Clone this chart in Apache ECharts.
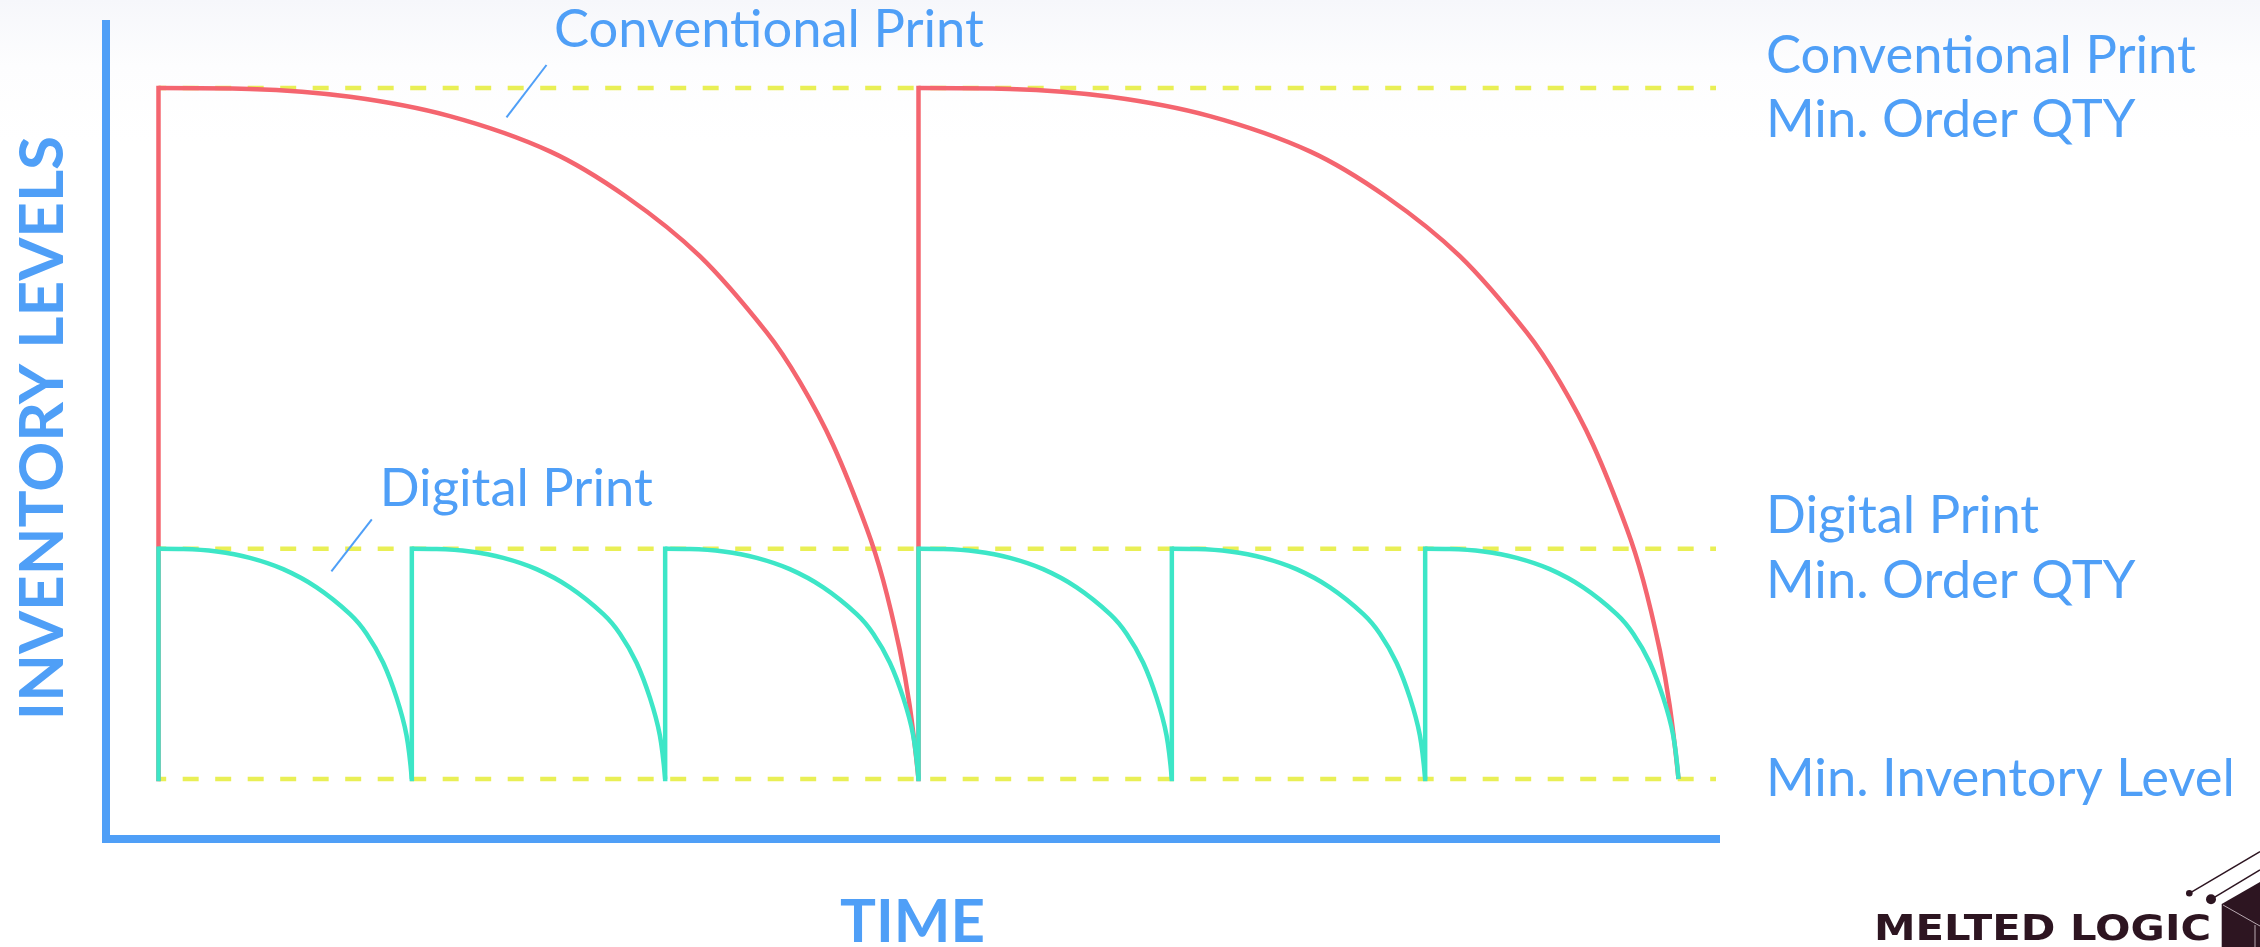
<!DOCTYPE html>
<html>
<head>
<meta charset="utf-8">
<style>
  html, body { margin: 0; padding: 0; background: #ffffff; }
  #chart { width: 2260px; height: 947px; }
</style>
<script src="https://cdn.jsdelivr.net/npm/echarts@6/dist/echarts.min.js"></script>
</head>
<body>
<div id="chart"></div>
<script>
// ---- data (x: time in digital reorder periods, y: inventory units) ----
const levels = [3, 1, 0];
const levelLabels = ['Conventional Print\nMin. Order QTY', 'Digital Print\nMin. Order QTY', 'Min. Inventory Level'];

const conventionalCurve = [
  [0, 3], [0.361, 2.996], [0.756, 2.962], [1.150, 2.878], [1.545, 2.725], [1.848, 2.527],
  [2.137, 2.270], [2.400, 1.940], [2.531, 1.725], [2.663, 1.450], [2.795, 1.090], [2.860, 0.865],
  [2.926, 0.560], [2.965, 0.320], [3, 0],
  ['-', '-'],
  [3, 3], [3.361, 2.996], [3.756, 2.962], [4.150, 2.878], [4.545, 2.725], [4.848, 2.527],
  [5.137, 2.270], [5.400, 1.940], [5.531, 1.725], [5.663, 1.450], [5.795, 1.090], [5.860, 0.865],
  [5.926, 0.560], [5.965, 0.320], [6, 0]
];
const conventionalRise = [[0, 0], [0, 3], ['-', '-'], [3, 0], [3, 3]];

const digitalCurve = [
  [0, 1], [0.098, 0.999], [0.230, 0.988], [0.361, 0.960], [0.492, 0.911], [0.624, 0.832], [0.756, 0.716], [0.822, 0.630], [0.887, 0.505], [0.940, 0.352], [0.979, 0.190], [1, 0],
  ['-', '-'],
  [1, 1], [1.098, 0.999], [1.230, 0.988], [1.361, 0.960], [1.492, 0.911], [1.624, 0.832], [1.756, 0.716], [1.822, 0.630], [1.887, 0.505], [1.940, 0.352], [1.979, 0.190], [2, 0],
  ['-', '-'],
  [2, 1], [2.098, 0.999], [2.230, 0.988], [2.361, 0.960], [2.492, 0.911], [2.624, 0.832], [2.756, 0.716], [2.822, 0.630], [2.887, 0.505], [2.940, 0.352], [2.979, 0.190], [3, 0],
  ['-', '-'],
  [3, 1], [3.098, 0.999], [3.230, 0.988], [3.361, 0.960], [3.492, 0.911], [3.624, 0.832], [3.756, 0.716], [3.822, 0.630], [3.887, 0.505], [3.940, 0.352], [3.979, 0.190], [4, 0],
  ['-', '-'],
  [4, 1], [4.098, 0.999], [4.230, 0.988], [4.361, 0.960], [4.492, 0.911], [4.624, 0.832], [4.756, 0.716], [4.822, 0.630], [4.887, 0.505], [4.940, 0.352], [4.979, 0.190], [5, 0],
  ['-', '-'],
  [5, 1], [5.098, 0.999], [5.230, 0.988], [5.361, 0.960], [5.492, 0.911], [5.624, 0.832], [5.756, 0.716], [5.822, 0.630], [5.887, 0.505], [5.940, 0.352], [5.979, 0.190], [6, 0]
];
const digitalRise = [
  [0, 0], [0, 1], ['-', '-'], [1, 0], [1, 1], ['-', '-'], [2, 0], [2, 1], ['-', '-'],
  [3, 0], [3, 1], ['-', '-'], [4, 0], [4, 1], ['-', '-'], [5, 0], [5, 1]
];

const xRange = [-0.2072, 6.148];
const yRange = [-0.2605, 3.278];

// ---- styles ----
const BLUE = '#4f9ff7';
const RED = '#f4656f';
const TEAL = '#3de6c7';
const YELLOW = '#e9ef55';
const DARK = '#2d1521';
const FONT = 'Lato, "Noto Sans", sans-serif';

const chart = echarts.init(document.getElementById('chart'), null, { renderer: 'canvas' });

const levelSeries = levels.map((lv, i) => ({
  type: 'line',
  name: 'level' + i,
  data: [[0, lv], [xRange[1], lv]],
  symbol: 'none',
  silent: true,
  z: 1,
  lineStyle: { color: YELLOW, width: 4.5, type: [16, 16.5], dashOffset: 8.3 },
  endLabel: {
    show: true,
    formatter: levelLabels[i],
    color: BLUE,
    fontFamily: FONT,
    fontSize: 52.5,
    lineHeight: 64.5,
    distance: 50
  }
}));

const option = {
  animation: false,
  backgroundColor: new echarts.graphic.LinearGradient(0, 0, 0, 1, [
    { offset: 0, color: '#f6f7fb' },
    { offset: 0.07, color: '#fdfdfe' },
    { offset: 0.15, color: '#ffffff' },
    { offset: 1, color: '#ffffff' }
  ]),
  grid: { left: 106, right: 544, top: 24, bottom: 108, containLabel: false },
  xAxis: {
    type: 'value', min: xRange[0], max: xRange[1],
    axisLine: { show: true, onZero: false, lineStyle: { color: BLUE, width: 8, cap: 'square' } },
    axisTick: { show: false }, axisLabel: { show: false }, splitLine: { show: false }
  },
  yAxis: {
    type: 'value', min: yRange[0], max: yRange[1],
    axisLine: { show: true, onZero: false, lineStyle: { color: BLUE, width: 8, cap: 'square' } },
    axisTick: { show: false }, axisLabel: { show: false }, splitLine: { show: false }
  },
  series: [
    ...levelSeries,
    {
      type: 'line', name: 'Conventional Print', data: conventionalCurve,
      symbol: 'none', smooth: 0.35, connectNulls: false, z: 3,
      lineStyle: { color: RED, width: 4.5 }
    },
    {
      type: 'line', name: 'Conventional rise', data: conventionalRise,
      symbol: 'none', connectNulls: false, z: 3,
      lineStyle: { color: RED, width: 4.5, cap: 'square' }
    },
    {
      type: 'line', name: 'Digital Print', data: digitalCurve,
      symbol: 'none', smooth: 0.35, connectNulls: false, z: 4,
      lineStyle: { color: TEAL, width: 4.5 }
    },
    {
      type: 'line', name: 'Digital rise', data: digitalRise,
      symbol: 'none', connectNulls: false, z: 4,
      lineStyle: { color: TEAL, width: 4.5, cap: 'square' }
    }
  ],
  graphic: {
    elements: [
      { type: 'text', x: 554, y: 30, z: 10,
        style: { text: 'Conventional Print', fill: BLUE, font: '52.5px ' + FONT, textAlign: 'left', textVerticalAlign: 'middle' } },
      { type: 'line', z: 10, shape: { x1: 546.5, y1: 65, x2: 506.5, y2: 117.3 }, style: { stroke: BLUE, lineWidth: 2 } },
      { type: 'text', x: 379.7, y: 489, z: 10,
        style: { text: 'Digital Print', fill: BLUE, font: '52.5px ' + FONT, textAlign: 'left', textVerticalAlign: 'middle' } },
      { type: 'line', z: 10, shape: { x1: 371.8, y1: 519.3, x2: 331.4, y2: 571.3 }, style: { stroke: BLUE, lineWidth: 2 } },
      { type: 'text', x: 42.5, y: 428, rotation: Math.PI / 2, z: 10,
        style: { text: 'INVENTORY LEVELS', fill: BLUE, font: 'bold 62px ' + FONT, textAlign: 'center', textVerticalAlign: 'middle' } },
      { type: 'text', x: 912.5, y: 923, z: 10,
        style: { text: 'TIME', fill: BLUE, font: 'bold 60px ' + FONT, textAlign: 'center', textVerticalAlign: 'middle' } },
      // logo
      { type: 'text', x: 1874, y: 931, scaleX: 1.16, z: 10,
        style: { text: 'MELTED LOGIC', fill: DARK, font: 'bold 36px "DejaVu Sans", sans-serif', textAlign: 'left', textVerticalAlign: 'middle' } },
      { type: 'line', z: 10, shape: { x1: 2189.3, y1: 893.3, x2: 2260, y2: 851.7 }, style: { stroke: DARK, lineWidth: 1.5 } },
      { type: 'line', z: 10, shape: { x1: 2211, y1: 899.3, x2: 2260, y2: 870 }, style: { stroke: DARK, lineWidth: 1.5 } },
      { type: 'circle', z: 10, shape: { cx: 2189.3, cy: 893.3, r: 3.3 }, style: { fill: DARK } },
      { type: 'circle', z: 10, shape: { cx: 2211, cy: 899.3, r: 5 }, style: { fill: DARK } },
      { type: 'polygon', z: 10, shape: { points: [[2221.7, 904], [2260, 882], [2260, 947], [2221.7, 947]] }, style: { fill: DARK } },
      { type: 'line', z: 11, shape: { x1: 2223, y1: 905, x2: 2260, y2: 926 }, style: { stroke: '#b9aab2', lineWidth: 1 } },
      { type: 'line', z: 11, shape: { x1: 2255, y1: 925, x2: 2255, y2: 947 }, style: { stroke: '#b9aab2', lineWidth: 1 } }
    ]
  }
};

chart.setOption(option);
</script>
</body>
</html>
